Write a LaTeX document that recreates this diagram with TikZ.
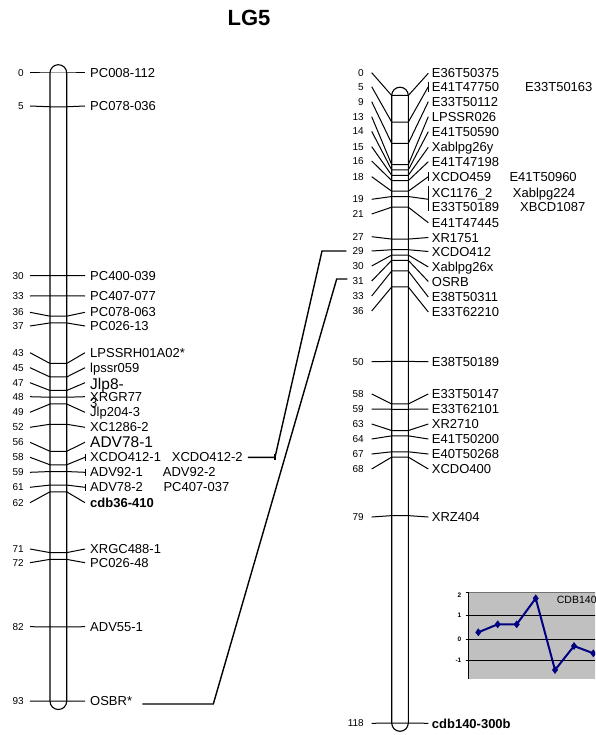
\documentclass[tikz,border=0pt]{standalone}
\usepackage{fontspec}
\setmainfont{Liberation Sans}
\usetikzlibrary{calc,plotmarks}
\definecolor{chartgray}{RGB}{192,192,192}
\definecolor{navyline}{RGB}{0,0,128}
\begin{document}
\begin{tikzpicture}[x=1pt,y=-1pt,
  tk/.style={line width=1pt, black},
  tube/.style={line width=1.1pt, black, rounded corners=8.3pt},
  conn/.style={line width=1.4pt, black},
  lab/.style={anchor=west, inner sep=0pt, text height=9.3pt, text depth=0pt, font=\fontsize{13}{15}\selectfont},
  biglab/.style={anchor=west, inner sep=0pt, text height=11.1pt, text depth=0pt, font=\fontsize{15.5}{18}\selectfont},
  boldlab/.style={lab, font=\fontsize{13}{15}\selectfont\bfseries},
  num/.style={anchor=east, inner sep=0pt, text height=7.2pt, text depth=0pt, font=\fontsize{10}{12}\selectfont},
  axlab/.style={anchor=east, inner sep=0pt, text height=4.5pt, text depth=0pt, font=\fontsize{6.5}{7}\selectfont\bfseries}
]
\useasboundingbox (0,0) rectangle (595,735);
\fill[white] (0,0) rectangle (595,735);

% title
\node[inner sep=0pt, text height=15.8pt, text depth=0pt, font=\fontsize{22}{24}\selectfont\bfseries] (title) at (249,17.5) {LG5};

% ---------- left chromosome ----------
\draw[tube] (50,64.7) rectangle (66.7,709.5);
\foreach \c/\ly in {0/73, 5/106, 30/275.7, 33/296, 36/312.3, 37/326, 43/352.7, 45/367.7, 47/382.7, 48/396.7, 49/412.3, 52/427.3, 56/442.3, 58/457.3, 59/472.3, 61/487.3, 62/502.7, 71/549, 72/562.7, 82/626.7, 93/701}{
  \pgfmathsetmacro\cy{73+6.755*\c}
  \draw[tk] (30,\ly) -- (50,\cy) -- (66.7,\cy) -- (85,\ly);
  \node[num] (Ln\c) at (24,\ly) {\c};
}
% brackets
\draw[tk] (85,453.8) -- (85,460.8);
\draw[tk] (85,468.8) -- (85,475.8);
\draw[tk] (85,483.8) -- (85,490.8);

\node[lab] (L0) at (90,73) {PC008-112};
\node[lab] (L5) at (90,106) {PC078-036};
\node[lab] (L30) at (90,275.7) {PC400-039};
\node[lab] (L33) at (90,296) {PC407-077};
\node[lab] (L36) at (90,312.3) {PC078-063};
\node[lab] (L37) at (90,326) {PC026-13};
\node[lab] (L43) at (90,352.7) {LPSSRH01A02*};
\node[lab] (L45) at (90,367.7) {lpssr059};
\node[biglab] (L47) at (90,384) {Jlp8-};
\node[lab] (L47b) at (90,403) {3};
\node[lab] (L48) at (90,396.7) {XRGR77};
\node[lab] (L49) at (90,412.3) {Jlp204-3};
\node[lab] (L52) at (90,427.3) {XC1286-2};
\node[biglab] (L56) at (90,442.3) {ADV78-1};
\node[lab] (L58) at (90,457.3) {XCDO412-1};
\node[lab] (L58b) at (171.7,457.3) {XCDO412-2};
\node[lab] (L59) at (90,472.3) {ADV92-1};
\node[lab] (L59b) at (162.7,472.3) {ADV92-2};
\node[lab] (L61) at (90,487.3) {ADV78-2};
\node[lab] (L61b) at (163.3,487.3) {PC407-037};
\node[boldlab] (L62) at (90,502.7) {cdb36-410};
\node[lab] (L71) at (90,549) {XRGC488-1};
\node[lab] (L72) at (90,562.7) {PC026-48};
\node[lab] (L82) at (90,626.7) {ADV55-1};
\node[lab] (L93) at (90,701) {OSBR*};

% ---------- right chromosome ----------
\draw[tube] (391.7,87.2) rectangle (408.3,731.3);
\foreach \c/\ly/\ry in {0/72.7/73.3, 5/86.7/86.7, 9/101.7/101.7, 13/116.7/116.7, 14/131.3/131.7, 15/146.7/147.3, 16/161/161.7, 18/176.7/176.7, 19/199.3/199.3, 21/214/222.7, 27/236.7/237.5, 29/251/251.5, 30/266/267, 31/281/281.5, 33/296/297, 36/311/312, 50/361.7/361.7, 58/394/394, 59/409/409, 63/424/424, 64/439/439, 67/454/454, 68/469/469, 79/517/517, 118/723.3/723.3}{
  \pgfmathsetmacro\cy{95.5+5.318*\c}
  \draw[tk] (371.7,\ly) -- (391.7,\cy) -- (408.3,\cy) -- (428.3,\ry);
  \node[num] (Rn\c) at (364,\ly) {\c};
}
\draw[tk] (428.3,81.7) -- (428.3,91.7);
\draw[tk] (428.3,172) -- (428.3,181.5);
\draw[tk] (428.3,186) -- (428.3,211);

\node[lab] (R0) at (431.7,73.3) {E36T50375};
\node[lab] (R5) at (431.7,86.7) {E41T47750};
\node[lab] (R5b) at (525,86.7) {E33T50163};
\node[lab] (R9) at (431.7,101.7) {E33T50112};
\node[lab] (R13) at (431.7,116.7) {LPSSR026};
\node[lab] (R14) at (431.7,131.7) {E41T50590};
\node[lab] (R15) at (431.7,147.3) {Xablpg26y};
\node[lab] (R16) at (431.7,161.7) {E41T47198};
\node[lab] (R18) at (431.7,176.7) {XCDO459};
\node[lab] (R18b) at (509.3,176.7) {E41T50960};
\node[lab] (R19) at (431.7,192.7) {XC1176\_2};
\node[lab] (R19b) at (512.7,192.7) {Xablpg224};
\node[lab] (R19c) at (431.7,206.7) {E33T50189};
\node[lab] (R19d) at (520,206.7) {XBCD1087};
\node[lab] (R21) at (431.7,222.7) {E41T47445};
\node[lab] (R27) at (431.7,237.5) {XR1751};
\node[lab] (R29) at (431.7,251.5) {XCDO412};
\node[lab] (R30) at (431.7,267) {Xablpg26x};
\node[lab] (R31) at (431.7,281.5) {OSRB};
\node[lab] (R33) at (431.7,297) {E38T50311};
\node[lab] (R36) at (431.7,312) {E33T62210};
\node[lab] (R50) at (431.7,361.7) {E38T50189};
\node[lab] (R58) at (431.7,394) {E33T50147};
\node[lab] (R59) at (431.7,409) {E33T62101};
\node[lab] (R63) at (431.7,424) {XR2710};
\node[lab] (R64) at (431.7,439) {E41T50200};
\node[lab] (R67) at (431.7,454) {E40T50268};
\node[lab] (R68) at (431.7,469) {XCDO400};
\node[lab] (R79) at (431.7,517) {XRZ404};
\node[boldlab] (R118) at (431.7,724) {cdb140-300b};

% ---------- connectors ----------
\coordinate (c1a) at (275,457.3);
\coordinate (c1b) at (322,251);
\draw[conn] ($(L58b.east)+(5,0)$) -- (c1a) -- (c1b) -- ($(Rn29.west)+(-6,0)$);
\draw[conn] ($(c1a)+(0,-3)$) -- ($(c1a)+(0,3)$);
\coordinate (c2a) at (213.3,704);
\coordinate (c2b) at (336.7,279);
\draw[conn] ($(L93.east)+(10,3)$) -- (c2a) -- (c2b) -- ($(Rn31.west)+(-5,-2)$);

% ---------- inset chart ----------
\begin{scope}
\clip (440,585) rectangle (595,690);
\fill[chartgray] (468.3,592.7) rectangle (600,679);
\draw[line width=0.9pt, black!55] (468.3,592.7) -- (600,592.7);
\foreach \gy in {615,639.3,660}{
  \draw[line width=0.9pt, black] (468.3,\gy) -- (600,\gy);
}
\draw[line width=1.4pt, black] (468.3,592) -- (468.3,679);
\foreach \gy in {592.7,615,639.3,660}{
  \draw[line width=0.8pt] (465.5,\gy) -- (468.3,\gy);
}
\draw[navyline, line width=2pt, mark=diamond*, mark size=3.5pt, mark options={fill=navyline, draw=navyline, line width=0.5pt}]
  plot coordinates {(478.3,632.3) (497.7,624.3) (516.7,624.3) (535.7,598.3) (555,670) (574,646) (593.3,653.3)};
\node[anchor=west, inner sep=0pt, text height=7.5pt, text depth=0pt, font=\fontsize{10.5}{12}\selectfont] (ctitle) at (556.7,599.3) {CDB140};
\end{scope}
\node[axlab] (a2) at (461.5,595) {2};
\node[axlab] (a1) at (461.5,615) {1};
\node[axlab] (a0) at (461.5,639.3) {0};
\node[axlab] (am1) at (461.5,660) {-1};
\end{tikzpicture}
\end{document}
